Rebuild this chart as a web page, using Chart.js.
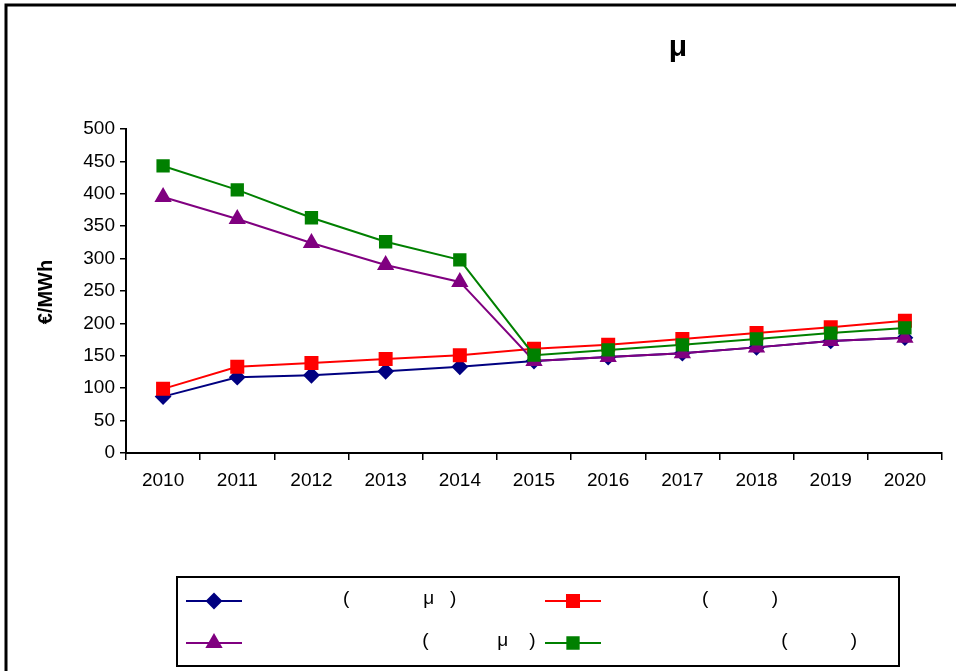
<!DOCTYPE html>
<html>
<head>
<meta charset="utf-8">
<script src="https://cdn.jsdelivr.net/npm/chart.js@4"></script>
<style>
  body { margin: 0; background: #fff; }
  canvas { display: block; }
</style>
</head>
<body>
<canvas id="myChart" width="956" height="671"></canvas>
<script>
const years = ['2010', '2011', '2012', '2013', '2014', '2015', '2016', '2017', '2018', '2019', '2020'];

const blueValues = [87, 117, 120, 126, 133, 142, 148, 154, 163, 173, 178];
const redValues = [99, 133, 139, 145, 151, 161, 167, 176, 185, 194, 204];
const purpleValues = [395, 361, 324, 290, 264, 142, 148, 154, 163, 173, 178];
const greenValues = [443, 406, 363, 326, 298, 151, 159, 167, 176, 185, 193];

const seriesLabels = [
  '                  (              μ   )',
  '                  (            )',
  '                                 (             μ    )',
  '                                 (            )'
];
const chartTitle = 'μ';
const yTitle = '€/MWh';

const ctx = document.getElementById('myChart').getContext('2d');
const font = '"Liberation Sans", Arial, sans-serif';

var extras = {
  id: 'extras',
  afterDraw(chart) {
    const c = chart.ctx;
    c.save();
    // outer frame
    c.strokeStyle = '#000';
    c.lineWidth = 3;
    c.strokeRect(6, 5, 980, 700);

    // title
    c.fillStyle = '#000';
    c.font = 'bold 30px ' + font;
    c.textAlign = 'center';
    c.textBaseline = 'alphabetic';
    c.fillText(chartTitle, 678, 56);

    // y title
    c.save();
    c.translate(46, 292);
    c.rotate(-Math.PI / 2);
    c.textBaseline = 'middle';
    c.font = 'bold 20px ' + font;
    c.fillText(yTitle, 0, 0);
    c.restore();

    // legend box
    c.lineWidth = 2;
    c.strokeRect(177, 577, 722, 89);
    const slots = [[186, 601], [545, 601], [186, 643], [545, 643]];
    chart.data.datasets.forEach(function (ds, i) {
      const x = slots[i][0], y = slots[i][1];
      c.strokeStyle = ds.borderColor;
      c.fillStyle = ds.backgroundColor;
      c.lineWidth = 2;
      c.beginPath();
      c.moveTo(x, y);
      c.lineTo(x + 56, y);
      c.stroke();
      Chart.helpers.drawPoint(c, {
        pointStyle: ds.pointStyle,
        radius: ds.pointRadius,
        borderWidth: 1,
        rotation: 0
      }, x + 28, y);
      c.fillStyle = '#000';
      c.font = '19px ' + font;
      c.textAlign = 'left';
      c.textBaseline = 'middle';
      c.fillText(ds.label, x + 62, y - 2);
    });
    c.restore();
  }
};

function makeSet(label, values, color, style, radius, order) {
  return {
    label: label,
    data: values,
    borderColor: color,
    backgroundColor: color,
    pointBackgroundColor: color,
    pointBorderColor: color,
    pointStyle: style,
    pointRadius: radius,
    pointHoverRadius: radius,
    borderWidth: 2,
    tension: 0,
    order: order
  };
}

var graphData = {
  type: 'line',
  data: {
    labels: years,
    datasets: [
      makeSet(seriesLabels[0], blueValues, '#000080', 'rectRot', 7, 4),
      makeSet(seriesLabels[1], redValues, '#ff0000', 'rect', 8.5, 3),
      makeSet(seriesLabels[2], purpleValues, '#800080', 'triangle', 8, 2),
      makeSet(seriesLabels[3], greenValues, '#008000', 'rect', 8, 1)
    ]
  },
  options: {
    responsive: false,
    animation: false,
    layout: { padding: { top: 129, right: 14, left: 0, bottom: 0 } },
    plugins: {
      legend: { display: false },
      title: { display: false },
      tooltip: { enabled: false }
    },
    scales: {
      x: {
        offset: true,
        grid: { offset: true, drawOnChartArea: false, color: '#000', lineWidth: 1.5, tickLength: 7 },
        border: { color: '#000', width: 2 },
        ticks: { color: '#000', font: { family: font, size: 19 }, padding: 9, maxRotation: 0 },
        afterFit(scale) { scale.height = 671 - 453; }
      },
      y: {
        min: 0,
        max: 500,
        ticks: { stepSize: 50, color: '#000', font: { family: font, size: 19 }, padding: 5 },
        grid: { drawOnChartArea: false, color: '#000', lineWidth: 1.5, tickLength: 6 },
        border: { color: '#000', width: 2 },
        afterFit(scale) { scale.width = 126; }
      }
    }
  },
  plugins: [extras]
};

var myChart = new Chart(ctx, graphData);
</script>
</body>
</html>
